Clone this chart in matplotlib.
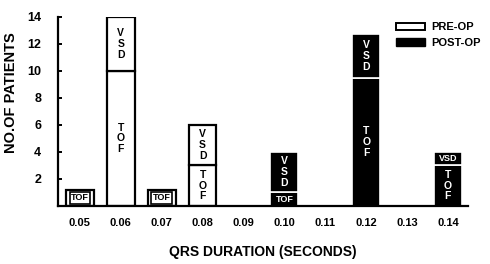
import matplotlib
matplotlib.use('Agg')
import matplotlib.pyplot as plt
from matplotlib.patches import Patch
import numpy as np

durations = ['0.05', '0.06', '0.07', '0.08', '0.09', '0.10', '0.11', '0.12', '0.13', '0.14']
pre_tof = [1.2, 10, 1.2, 3, 0, 0, 0, 0, 0, 0]
pre_vsd = [0, 4, 0, 3, 0, 0, 0, 0, 0, 0]
post_tof = [0, 0, 0, 0, 0, 1, 0, 9.5, 0, 3]
post_vsd = [0, 0, 0, 0, 0, 3, 0, 3.2, 0, 1]

plt.rcParams['font.family'] = ['Liberation Sans', 'DejaVu Sans']
plt.rcParams['font.weight'] = 'bold'

fig = plt.figure(figsize=(4.9, 2.64), dpi=100)
ax = fig.add_axes([0.118, 0.22, 0.837, 0.716])

x = np.arange(len(durations))
width = 0.68


def draw_stack(lower, upper, face, edge, lw):
    # only draw segments that have a value, so empty categories stay blank
    idx = [i for i in range(len(lower)) if lower[i] > 0]
    ax.bar(x[idx], [lower[i] for i in idx], width, color=face, edgecolor=edge, linewidth=lw)
    idx = [i for i in range(len(upper)) if upper[i] > 0]
    ax.bar(x[idx], [upper[i] for i in idx], width, bottom=[lower[i] for i in idx],
           color=face, edgecolor=edge, linewidth=lw)


def label_segment(xc, bottom, height, name, color, boxed=False):
    if height <= 0:
        return
    mid = bottom + height / 2
    if height < 1.5:
        kw = {}
        if boxed:
            kw['bbox'] = dict(boxstyle='square,pad=0.15', fc='white', ec='black', lw=1.2)
        ax.text(xc, mid, name, ha='center', va='center', fontsize=6.5,
                color=color, **kw)
    else:
        ax.text(xc, mid, '\n'.join(name), ha='center', va='center', fontsize=7.5,
                color=color, linespacing=1.1)


draw_stack(pre_tof, pre_vsd, 'white', 'black', 1.6)
draw_stack(post_tof, post_vsd, 'black', 'white', 1.2)

for i in range(len(durations)):
    label_segment(x[i], 0, pre_tof[i], 'TOF', 'black', boxed=True)
    label_segment(x[i], pre_tof[i], pre_vsd[i], 'VSD', 'black', boxed=True)
    label_segment(x[i], 0, post_tof[i], 'TOF', 'white')
    label_segment(x[i], post_tof[i], post_vsd[i], 'VSD', 'white')

ax.set_xlim(-0.54, 9.49)
ax.set_ylim(0, 14)
ax.spines['top'].set_visible(False)
ax.spines['right'].set_visible(False)
ax.spines['left'].set_linewidth(1.6)
ax.spines['bottom'].set_linewidth(1.6)

ax.set_yticks([2, 4, 6, 8, 10, 12, 14])
ax.set_yticklabels(['2', '4', '6', '8', '10', '12', '14'], fontsize=9)
ax.tick_params(axis='y', direction='in', length=3, width=1.4, pad=12)
ax.set_xticks(x)
ax.set_xticklabels(durations, fontsize=8)
ax.tick_params(axis='x', length=0, pad=9)

ax.set_xlabel('QRS DURATION (SECONDS)', fontsize=10, fontweight='bold', labelpad=12)
ax.set_ylabel('NO.OF PATIENTS', fontsize=10.5, fontweight='bold')
ax.yaxis.set_label_coords(-0.098, 0.60)

handles = [Patch(facecolor='white', edgecolor='black', linewidth=1.4, label='PRE-OP'),
           Patch(facecolor='black', edgecolor='black', label='POST-OP')]
ax.legend(handles=handles, loc='upper right', bbox_to_anchor=(1.045, 1.0), frameon=False,
          fontsize=8, handlelength=2.6, handleheight=0.7, handletextpad=0.6,
          labelspacing=0.5, borderpad=0)

fig.savefig('out.png', dpi=100)
